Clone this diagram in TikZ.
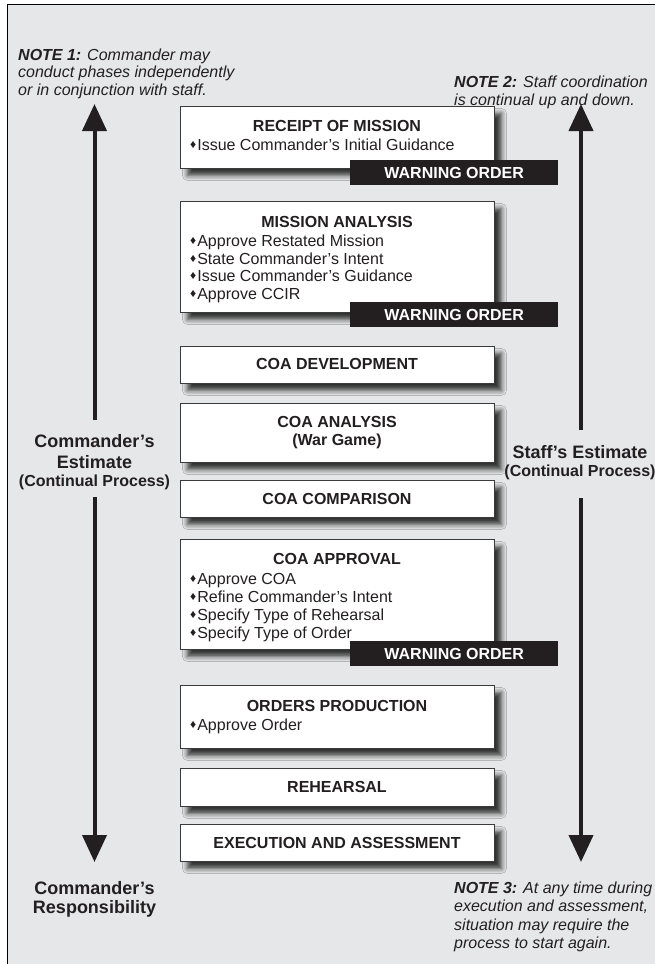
\documentclass[tikz,border=0pt]{standalone}
\usepackage{fontspec}
\setmainfont{Liberation Sans}
\usetikzlibrary{arrows.meta,shadows.blur}
\definecolor{panel}{HTML}{E6E7E8}
\definecolor{ink}{HTML}{231F20}
\definecolor{edge}{HTML}{3A3A3A}
\newcommand{\bul}{{\fontsize{12}{12}\selectfont\raisebox{1.6pt}{♦}}\hspace{1pt}}
\newcommand{\txt}{\fontsize{16}{18}\selectfont}
\newcommand{\bigtxt}{\fontsize{18}{21}\selectfont}
\begin{document}
\begin{tikzpicture}[x=1pt,y=-1pt,
  phase/.style={draw=edge, line width=0.9pt, fill=white, inner sep=0pt,
    anchor=north west, minimum width=314pt,
    blur shadow={shadow xshift=7pt, shadow yshift=-7pt,
      shadow blur radius=5pt, shadow opacity=78}},
  warn/.style={fill=ink, text=white, font=\txt\bfseries, inner sep=0pt,
    anchor=north west, minimum width=208pt, minimum height=25pt},
  ttl/.style={font=\txt\bfseries, text=ink, inner sep=0pt, anchor=base},
  itm/.style={font=\txt, text=ink, inner sep=0pt, anchor=base west},
  note/.style={font=\txt\itshape, text=ink, inner sep=0pt, anchor=base west},
  side/.style={font=\bigtxt\bfseries, text=ink, inner sep=0pt, anchor=base},
  sidesub/.style={font=\txt\bfseries, text=ink, inner sep=0pt, anchor=base},
  arr/.style={draw=ink, line width=4pt, -{Triangle[length=27pt,width=24pt]}}
]
% page area and frame
\clip (0,0) rectangle (655,964);
\fill[white] (0,0) rectangle (655,964);
\draw[fill=panel, draw=black, line width=1.5pt] (7.5,4.5) rectangle (720,1020);

% notes
\node[note] (n1a) at (18,60) {\textbf{NOTE 1:} Commander may};
\node[note] (n1b) at (18,77.5) {conduct phases independently};
\node[note] (n1c) at (18,95) {or in conjunction with staff.};
\node[note] (n2a) at (454,87) {\textbf{NOTE 2:} Staff coordination};
\node[note] (n2b) at (454,105) {is continual up and down.};
\node[note] (n3a) at (454,893) {\textbf{NOTE 3:} At any time during};
\node[note] (n3b) at (454,911.5) {execution and assessment,};
\node[note] (n3c) at (454,930) {situation may require the};
\node[note] (n3d) at (454,948) {process to start again.};

% phase boxes
\node[phase, minimum height=62pt]  (p1) at (180,106) {};
\node[phase, minimum height=111pt] (p2) at (180,201) {};
\node[phase, minimum height=37pt]  (p3) at (180,346) {};
\node[phase, minimum height=59pt]  (p4) at (180,403) {};
\node[phase, minimum height=37pt]  (p5) at (180,480) {};
\node[phase, minimum height=110pt] (p6) at (180,539) {};
\node[phase, minimum height=63pt]  (p7) at (180,685) {};
\node[phase, minimum height=38pt]  (p8) at (180,768) {};
\node[phase, minimum height=37pt]  (p9) at (180,824) {};

% warning order bars
\node[warn] (w1) at (350,160) {WARNING ORDER};
\node[warn] (w2) at (350,302) {WARNING ORDER};
\node[warn] (w3) at (350,641) {WARNING ORDER};

% box texts
\node[ttl] (t1) at (337,131) {RECEIPT OF MISSION};
\node[itm] (i1a) at (190,150.5) {\bul Issue Commander's Initial Guidance};

\node[ttl] (t2) at (337,227.5) {MISSION ANALYSIS};
\node[itm] (i2a) at (190,246.5) {\bul Approve Restated Mission};
\node[itm] (i2b) at (190,264) {\bul State Commander's Intent};
\node[itm] (i2c) at (190,281.5) {\bul Issue Commander's Guidance};
\node[itm] (i2d) at (190,299) {\bul Approve CCIR};

\node[ttl] (t3) at (337,369.5) {COA DEVELOPMENT};

\node[ttl] (t4) at (337,427.5) {COA ANALYSIS};
\node[ttl] (t4b) at (337,445.5) {(War Game)};

\node[ttl] (t5) at (337,504.5) {COA COMPARISON};

\node[ttl] (t6) at (337,564.5) {COA APPROVAL};
\node[itm] (i6a) at (190,584) {\bul Approve COA};
\node[itm] (i6b) at (190,602) {\bul Refine Commander's Intent};
\node[itm] (i6c) at (190,620) {\bul Specify Type of Rehearsal};
\node[itm] (i6d) at (190,638) {\bul Specify Type of Order};

\node[ttl] (t7) at (337,711) {ORDERS PRODUCTION};
\node[itm] (i7a) at (190,730) {\bul Approve Order};

\node[ttl] (t8) at (337,792.5) {REHEARSAL};
\node[ttl] (t9) at (337,848.5) {EXECUTION AND ASSESSMENT};

% side labels
\node[side] (ce1) at (94.5,447.5) {Commander's};
\node[side] (ce2) at (94.5,468.5) {Estimate};
\node[sidesub] (ce3) at (94.5,486.5) {(Continual Process)};
\node[side] (cr1) at (94.5,894.5) {Commander's};
\node[side] (cr2) at (94.5,913.5) {Responsibility};
\node[side] (se1) at (580,458.5) {Staff's Estimate};
\node[sidesub] (se2) at (580,476.5) {(Continual Process)};

% arrows
\coordinate (lu0) at (94.5,420);
\coordinate (lu1) at (94.5,104);
\coordinate (ld0) at (94.5,497);
\coordinate (ld1) at (94.5,862);
\coordinate (ru0) at (581,430);
\coordinate (ru1) at (581,104);
\coordinate (rd0) at (581,498);
\coordinate (rd1) at (581,862);
\draw[arr] (lu0) -- (lu1);
\draw[arr] (ld0) -- (ld1);
\draw[arr] (ru0) -- (ru1);
\draw[arr] (rd0) -- (rd1);
\end{tikzpicture}
\end{document}
